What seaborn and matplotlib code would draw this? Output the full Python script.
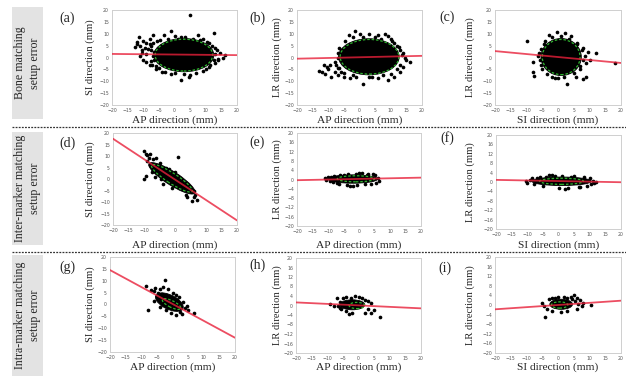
import matplotlib
matplotlib.use("Agg")
import matplotlib.pyplot as plt
import seaborn as sns
import pandas as pd
from matplotlib.patches import Ellipse, Rectangle
from matplotlib.lines import Line2D

sns.set_style("white")
plt.rcParams['font.family'] = ['Liberation Serif', 'DejaVu Serif']

# ---------------- data ----------------
panel_letters = ["(a)", "(b)", "(c)", "(d)", "(e)", "(f)", "(g)", "(h)", "(i)"]
x_labels = ["AP direction (mm)", "AP direction (mm)", "SI direction (mm)"] * 3
y_labels = ["SI direction (mm)", "LR direction (mm)", "LR direction (mm)"] * 3
row_titles = ["Bone matching\nsetup error",
              "Inter-marker matching\nsetup error",
              "Intra-marker matching\nsetup error"]
y_tick_steps = [5, 5, 5, 5, 4, 4, 5, 4, 4]

# regression line value at x=-20 and x=20
line_start = [1.5, -0.5, 2.7, 17.5, -0.3, 0.9, 14.5, 1.3, -1.8]
line_end = [1.0, 0.7, -2.3, -18.0, 0.8, -0.1, -14.0, -1.2, 1.8]

# dense core of the point cloud (ellipse): centre, half axes, angle
core_cx = [3.0, 3.0, 1.0, -1.0, -2.0, 1.0, -1.0, -2.0, 1.0]
core_cy = [1.0, 0.3, 0.2, 0.3, 0.2, 0.3, 1.0, 0.3, 0.3]
core_rx = [9.6, 9.7, 6.4, 9.8, 8.0, 9.5, 5.2, 4.0, 3.6]
core_ry = [7.0, 7.6, 7.8, 2.6, 1.8, 1.8, 2.8, 2.1, 2.1]
core_ang = [0, 0, 0, -42, 0, 0, -38, 0, 0]

# 95% confidence ellipse (green dashed)
ci_cx = [3.0, 3.2, 1.0, -1.0, -1.0, 1.0, -0.3, -0.5, 0.5]
ci_cy = [1.0, 0.3, 0.2, 0.3, 0.3, 0.3, 0.2, 0.0, 0.0]
ci_rx = [9.2, 9.4, 6.0, 8.7, 6.0, 7.0, 3.5, 2.5, 2.6]
ci_ry = [6.7, 7.3, 7.4, 2.0, 1.3, 1.3, 1.3, 1.3, 1.3]
ci_ang = [0, 0, 0, -42, 0, 0, -35, 0, 0]

# scattered points outside the dense core
a_x = [-12.5, -12, -11.5, -11, -10.5, -10, -9.5, -9, -8.5, -8, -7.5, -7, -11, -10, -9, -8,
       -7.5, -9, -3.5, -1, 0, 2, 5, 7.5, 9, 12.5, 11, 13, 14.5, 15.5, 16, 13, 14, 11, 9, 5,
       4.5, 2, 0, -3, -5, -6, -6.5, -6.5, -12, -10.5, -8, -7.5, -6.8, -7.2, -5.5, -4.5,
       -2, 1, 3.5, 6, 8, 10.5, 12, 13.5, 12.5, 11.5, 10, 7, 3, -1, -4, -6, -7, 12.8, 13.8]
a_y = [4.5, 6.5, 8.5, 5, 3, 7, 4, 6, 3.5, 8, 5, 9.5, 0.5, -1, -2, -3, -1.5, 1.5, 9.5, 11,
       9, 8.5, 18, 9.5, 8, 10.5, 6, 4, 2, 0, 1, -2.5, -1, -4, -5.5, -7.5, -8, -9.5, -6.5, -6,
       -4.5, -3.5, 2.5, -1, 5.5, 2, 5.5, 3, 6, -3, 7, 7.5, 8, 8, 8.5, 8, 7.5, 6.5, 5, 3, -1,
       -3, -5, -6.5, -7, -7, -6, -5, 0.5, 1.5, -0.5]
b_x = [-12, -11, -10, -9, -8, -7, -10.5, -9.5, -8, -7, -6, -13, -11.5, -7, -6, -5.5, -5,
       -3, -1.5, -3.5, 0, 3, 6, 8, 9, 10, 11, 12, 13, 14, 15, 16, 14, 13, 11, 9, 6, 1, 4, -1,
       -7.5, -6.8, -6.5, -4.5, -2, 1, 5, 7, 10.5, 12.5, 13.5, 13, 12, 10, 7.5, 3, -2, -5,
       -6.5, 14.5]
b_y = [-6, -7, -5, -8, -6, -7.5, -4, -3, -2, -4.5, -6, -5.5, -3, 2, 3, 2.5, -8, -8.5, 11,
       9.5, 10, 10, 9.5, 10, 9, 8, 6, 5, 3, 2, -1, -2, -4, -6, -8, -9.5, -8.5, -11, -8, -8,
       -3, 0, 4, 7, 8.5, 8.5, 8.5, 8, 7, 4.5, 1, -3, -5, -7, -7.5, -8, -7.5, -6.5, -4.5, 0]
c_x = [-10, -8, -8, -7.5, 3, 12, 18, 9, 9, 7.8, 5.7, -0.4, 2.3, -3, -4.5, 4, 6, 8, 7,
       -5.5, -6, 0, -2, 10, -5.5, -5.8, -4, -2, 1, 3.5, 6, 7.5, 7.8, 7, 5, 2, -1, -3.5,
       -5, -6.2, 8.5, 9.5]
c_y = [7, -1.7, -6, -7.7, -11, 2, -2.2, -2.2, -8.4, -9.1, -8, 10.8, 10.2, 9.5, 5.8, 9,
       6, 4, -5, -3, 2, -8.5, -8, -1, 3.5, -1, 7, 8.5, 9, 8, 5.5, 3, -1, -3.5, -6.5, -8,
       -8.5, -7, -5, 0.5, 0.5, 2.5]
d_x = [-10, -9.5, -9, -8.5, -10, -9.5, 1, 7, 6, 5.5, 4, -8, -7, -6, -5, -3, 0, 2, 3, 6.5,
       -4, -6.5, -9, -8, -7.5, -5.5, -2, 1, 4.5, 5, 6, 3.5, -1, -4.5, -7]
d_y = [12, 11, 10.5, 9, 0, 1.5, 9.7, -9, -8, -9.5, -8, 11, 8.5, 9, 7, 5, 3, -2, -4, -7,
       -2, 1, 8, 6, 3, 4.5, 4.5, 1.5, -3.5, -5, -5, -7, -4, 0, 4]
e_x = [-11, -10.5, -10, -9.5, -9, -3, -2, -4, 1, 0, -5, 3, 5, 6, 6.5, 5.5, 2, -7, -8,
       -8.5, -6, -1, 2.5, 4, -0.5, -3.5, -6.5, 4.5]
e_y = [0.5, 0, 1, -0.5, 1.2, -3, -3, -2.5, 3, 2.8, 2, 2.5, 1.8, 0.5, -0.5, -1.5, -2,
       -1.5, 1.5, -1, 2, 2.5, 2, -2, -2.5, 2.2, -2, 2.2]
f_x = [-10.5, -10, -9, -3, -2, 0, 2, 3, 5, 8, 10, 11, 12, 11.5, 9, -5, -7, -8, -6, -4,
       -1, 1, 4, 6.5, 10.5, -8.5, 7]
f_y = [0.5, -0.5, 1, 2.8, 3, -2.5, -3, -2.5, 2.5, 2, 1.5, 0.5, 0, -0.5, -1.5, -1.5, 1.5,
       -1, 2, 2.3, 2.5, 2.5, 2.3, -2, -1, 1.5, -2]
g_x = [-8.5, -8, -7, -6, -5.5, -4, -2.5, -3, -1.5, 0, 1, 2, 3.5, 4, 5, 7, 3, 1, -2, -4,
       -6, -5, -4.5, -3.5, 2.5, 4.5, -0.5, 1.5]
g_y = [8, -2.5, 6, 5.5, 7, 6.5, 10.5, 7.5, 6.5, 5, 4, 3, 1, -1.5, -2.5, -3.5, -4, -4.5,
       -2.5, -1, 1.5, 3.5, 5, 4.5, -3, -0.5, -3.5, 2]
h_x = [-9, -8, -7, -6, -5, -4, -1, 0, 2, 3, 4, 5, 4, 7, 2, -2, -4, -6, -3, -6.5, -5.5,
       -2.5, 1, 3]
h_y = [0.5, 0, 3, 1.5, 3, 3.5, 4, 3.5, 2.5, 2, 1, -2, -3, -5, -3, -3, -2.5, -1, -3.5, 0,
       -1.5, 3, 3, -1.5]
i_x = [-5, -4.5, -4, -3, -2, 0, 2, 4, 5, 6, 7, 8, 7.5, 10.5, 6, 3, 1, -2, 4.5, 6.5, -3.5,
       -1, 3, 5.5]
i_y = [1, -0.5, -5, 2.5, 3, 3.5, 3.5, 3.5, 4, 3, 2, 1, -0.5, 0, -1.5, -2.5, -3, -2.5,
       2.5, 0.5, -1.5, 2.8, 2.8, 1.5]
outlier_x = [a_x, b_x, c_x, d_x, e_x, f_x, g_x, h_x, i_x]
outlier_y = [a_y, b_y, c_y, d_y, e_y, f_y, g_y, h_y, i_y]

# ---------------- layout (pixels) ----------------
W, H = 626, 376
axes_px = [  # left, right, top, bottom
    (112, 237, 10, 105), (297, 422, 10, 105), (495, 621, 10, 105),
    (113, 237, 133, 225), (297, 421, 133, 226), (496, 621, 135, 229),
    (110, 235, 257, 352), (296, 421, 258, 353), (495, 621, 257, 353),
]
letter_px = [(67, 18), (257, 18), (447, 17), (67, 143), (257, 142), (447, 138),
             (67, 267), (257, 265), (445, 268)]
ylab_x = [90, 277, 470] * 3
xlab_y = [120] * 3 + [245] * 3 + [367] * 3
boxes_px = [(12, 43, 7, 119), (12, 43, 132, 245), (12, 43, 255, 376)]
sep_y = [127, 252]


def fx(px):
    return px / W


def fy(py):
    return 1 - py / H


fig = plt.figure(figsize=(W / 100, H / 100), dpi=100)
fig.patch.set_facecolor("white")

for k in range(9):
    l, r, t, b = axes_px[k]
    ax = fig.add_axes([fx(l), fy(b), (r - l) / W, (b - t) / H])
    ax.set_facecolor("white")
    ax.set_xlim(-20, 20)
    ax.set_ylim(-20, 20)

    ax.add_patch(Ellipse((core_cx[k], core_cy[k]), 2 * core_rx[k], 2 * core_ry[k],
                         angle=core_ang[k], facecolor="black", edgecolor="black",
                         lw=0.6, zorder=2))
    sns.scatterplot(x=outlier_x[k], y=outlier_y[k], ax=ax, color="black", s=7,
                    linewidth=0, legend=False, zorder=3)
    ax.add_patch(Ellipse((ci_cx[k], ci_cy[k]), 2 * ci_rx[k], 2 * ci_ry[k],
                         angle=ci_ang[k], facecolor="none", edgecolor="#2fb52f",
                         lw=0.9, ls=(0, (2, 1.5)), zorder=4))
    df = pd.DataFrame({"x": [-20, 20], "y": [line_start[k], line_end[k]]})
    sns.lineplot(data=df, x="x", y="y", ax=ax, color="#e8203a", lw=1.3, alpha=0.8,
                 zorder=5)

    ax.set_xticks(range(-20, 21, 5))
    st = y_tick_steps[k]
    ax.set_yticks(range(-20, 21, st))
    ax.tick_params(axis="both", labelsize=3.3, colors="#555555", length=1.2,
                   width=0.4, pad=1)
    for lab in ax.get_xticklabels() + ax.get_yticklabels():
        lab.set_family("DejaVu Sans")
    for sp in ax.spines.values():
        sp.set_color("#cfcfcf")
        sp.set_linewidth(0.7)
    ax.set_xlabel("")
    ax.set_ylabel("")

    fig.text(fx((l + r) / 2), fy(xlab_y[k]), x_labels[k], ha="center", va="center",
             fontsize=8.2)
    fig.text(fx(ylab_x[k]), fy((t + b) / 2), y_labels[k], ha="center", va="center",
             rotation=90, fontsize=7.6)
    lx, ly = letter_px[k]
    fig.text(fx(lx), fy(ly), panel_letters[k], ha="center", va="center", fontsize=10)

for j, (l, r, t, b) in enumerate(boxes_px):
    fig.patches.append(Rectangle((fx(l), fy(b)), (r - l) / W, (b - t) / H,
                                 transform=fig.transFigure, facecolor="#e3e3e3",
                                 edgecolor="none", zorder=0))
    fig.text(fx((l + r) / 2), fy((t + b) / 2), row_titles[j], ha="center",
             va="center", rotation=90, fontsize=8.6, linespacing=1.25,
             multialignment="center")

for yy in sep_y:
    fig.add_artist(Line2D([fx(12), fx(626)], [fy(yy), fy(yy)], transform=fig.transFigure,
                          color="#333333", lw=0.9, ls=(0, (1.5, 1.0))))

fig.savefig("out.png", dpi=100)
